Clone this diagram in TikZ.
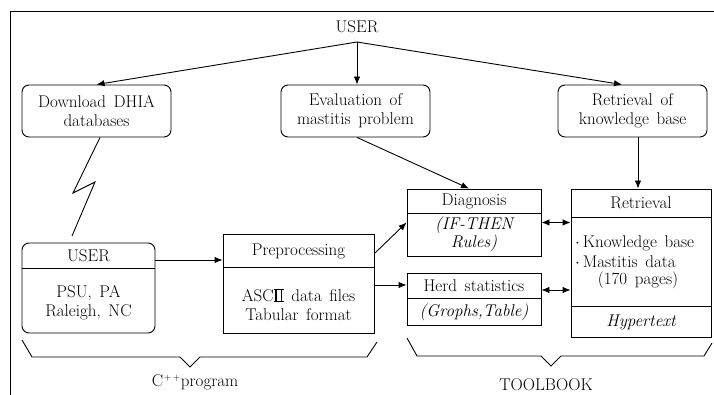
\documentclass[tikz,border=0pt]{standalone}
\usetikzlibrary{arrows.meta,calc}
\newcommand\romtwo{\leavevmode\hbox{\rlap{\rule[-0.02em]{0.6em}{0.05em}}\rlap{\raisebox{0.655em}{\rule{0.6em}{0.05em}}}\kern0.1em\vrule width0.07em height0.68em\kern0.26em\vrule width0.07em height0.68em\kern0.1em}}
\newcommand\myfont{\fontsize{17}{19}\selectfont\spaceskip=0.45em plus 0.1em minus 0.1em\relax}
\begin{document}
\begin{tikzpicture}[x=1pt,y=-1pt,
  font=\myfont,
  ln/.style={line width=0.9pt},
  rbox/.style={draw, line width=0.9pt, rounded corners=7pt, inner sep=0pt},
  sbox/.style={draw, line width=0.9pt, inner sep=0pt},
  txt/.style={align=center, inner sep=0pt},
  arr/.style={-{Latex[length=8pt,width=6.5pt]}, line width=0.9pt},
  darr/.style={{Latex[length=8pt,width=6.5pt]}-{Latex[length=8pt,width=6.5pt]}, line width=0.9pt}]
\useasboundingbox (0,0) rectangle (714,395);
% frame
\draw[ln] (10,395) -- (10,11) -- (714,11);
% top user
\node[txt] (topuser) at (357,27) {USER};
\coordinate (hub) at (357,42);
% top boxes
\node[rbox, minimum width=149pt, minimum height=52pt] (dl) at (96.5,111) {};
\node[txt] (dltxt) at (dl) {Download DHIA\\databases};
\node[rbox, minimum width=149pt, minimum height=52pt] (ev) at (355.5,111) {};
\node[txt] (evtxt) at (ev) {Evaluation of\\mastitis problem};
\node[rbox, minimum width=149pt, minimum height=52pt] (rk) at (632.5,111) {};
\node[txt] (rktxt) at (rk) {Retrieval of\\knowledge base};
% diagnosis
\node[sbox, minimum width=134pt, minimum height=67pt] (diag) at (474,222.5) {};
\draw[ln] (diag.west |- 0,213) -- (diag.east |- 0,213);
\node[txt] (diagt) at (474,201) {Diagnosis};
\node[txt, font=\fontsize{17}{17}\selectfont\itshape] (diagb) at (474,234) {(IF-THEN\\Rules)};
% herd
\node[sbox, minimum width=134pt, minimum height=52pt] (herd) at (474,299) {};
\draw[ln] (herd.west |- 0,298) -- (herd.east |- 0,298);
\node[txt] (herdt) at (474,285.5) {Herd statistics};
\node[txt, font=\myfont\itshape] (herdb) at (474,312) {(Grophs,Table)};
% retrieval
\node[sbox, minimum width=140pt, minimum height=148pt] (ret) at (641,263) {};
\draw[ln] (ret.west |- 0,217) -- (ret.east |- 0,217);
\draw[ln] (ret.west |- 0,306) -- (ret.east |- 0,306);
\node[txt] (rett) at (641,203) {Retrieval};
\node[txt, anchor=west] (kb1) at (575,243) {$\cdot$\,Knowledge base};
\node[txt, anchor=west] (kb2) at (575,262) {$\cdot$\,Mastitis data};
\node[txt] (kb3) at (638,280) {(170 pages)};
\node[txt, font=\myfont\itshape] (hyp) at (641,322) {Hypertext};
% lower user
\node[rbox, minimum width=133pt, minimum height=90pt] (user) at (88.5,288) {};
\draw[ln] (user.west |- 0,268) -- (user.east |- 0,268);
\node[txt] (usert) at (88.5,255.5) {USER};
\node[txt] (userb) at (88.5,302.5) {PSU, PA\\Raleigh, NC};
% preprocessing
\node[sbox, minimum width=151pt, minimum height=99pt] (pre) at (298.5,283.5) {};
\draw[ln] (pre.west |- 0,267) -- (pre.east |- 0,267);
\node[txt] (pret) at (298.5,251) {Preprocessing};
\node[txt] (preb) at (298.5,305) {ASC\romtwo{} data files\\Tabular format};
% arrows
\draw[arr] (hub) -- (dl.north);
\draw[arr] (hub) -- (hub |- ev.north);
\draw[arr] (hub) -- ([xshift=-10.5pt]rk.north);
\draw[arr] ([xshift=1.5pt]ev.south) -- ([xshift=-5pt]diag.north);
\draw[arr] ([xshift=5.5pt]rk.south) -- ([xshift=5.5pt]rk.south |- ret.north);
\draw[darr] (diag.east) -- (diag.east -| ret.west);
\draw[darr] ([yshift=9pt]herd.east) -- ([yshift=9pt]herd.east -| ret.west);
\draw[arr] ([yshift=28pt]user.east) -- ([yshift=28pt]user.east -| pre.west);
\draw[arr] ([yshift=30pt]pre.east) -- (diag.west);
\draw[arr] ([yshift=14pt]herd.west -| pre.east) -- ([yshift=14pt]herd.west);
% lightning
\coordinate (z1) at (73,193);
\coordinate (z2) at (95,182);
\coordinate (z3) at (72,236);
\draw[ln] ([xshift=3.5pt]dl.south) -- (z1) -- (z2) -- (z3);
% braces
\draw[ln] (22,340) -- (32,357) -- (180,357) -- (190,367) -- (200,357) -- (367,357) -- (377,342);
\draw[ln] (407,338) -- (417,356) -- (541,356) -- (551,366) -- (561,356) -- (704,356) -- (712,343);
\node[txt] (cpp) at (195,382) {C\kern1pt\raisebox{0.35em}{\fontsize{9}{9}\selectfont+\kern1.5pt+}\kern1pt program};
\node[txt] (tb) at (546,385) {TOOLBOOK};
\end{tikzpicture}
\end{document}
